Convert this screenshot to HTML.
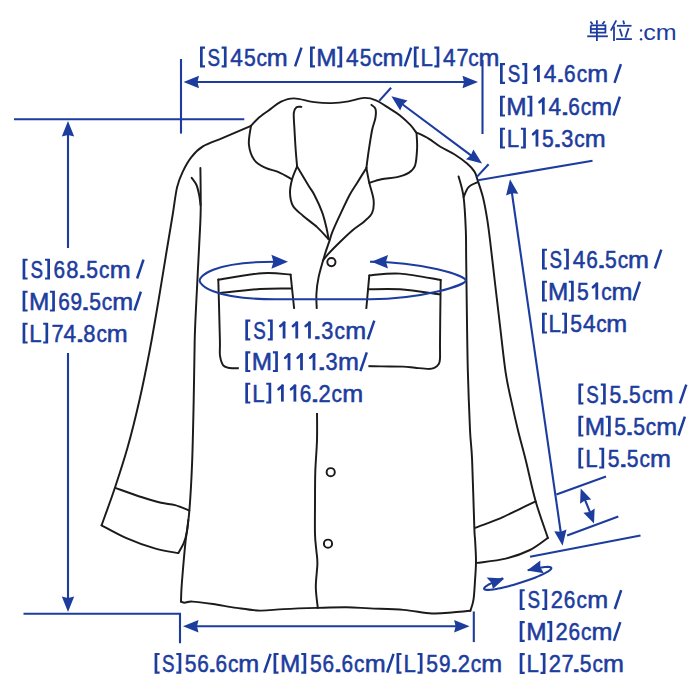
<!DOCTYPE html>
<html><head><meta charset="utf-8"><style>
html,body{margin:0;padding:0;background:#fff;width:700px;height:700px;overflow:hidden}
svg{display:block}
</style></head><body>
<svg width="700" height="700" viewBox="0 0 700 700">
<rect width="700" height="700" fill="#fff"/>
<g fill="none" stroke="#1d1a1a" stroke-width="1.95" stroke-linecap="round" stroke-linejoin="round">
<path d="M251.00,125.80 C246.32,127.82 230.92,134.47 222.90,137.90 C214.88,141.33 208.15,143.20 202.90,146.40 C197.65,149.60 194.73,152.93 191.40,157.10 C188.07,161.27 185.28,166.40 182.90,171.40 C180.52,176.40 178.78,180.00 177.10,187.10 C175.42,194.20 174.52,203.52 172.80,214.00 C171.08,224.48 169.17,235.67 166.80,250.00 C164.43,264.33 161.43,283.33 158.60,300.00 C155.77,316.67 152.98,333.33 149.80,350.00 C146.62,366.67 143.18,383.82 139.50,400.00 C135.82,416.18 131.77,432.57 127.70,447.10 C123.63,461.63 119.45,474.17 115.10,487.20 C110.75,500.23 103.85,518.95 101.60,525.30"/><path d="M101.60,525.30 C105.73,527.43 117.55,534.25 126.40,538.10 C135.25,541.95 146.05,545.90 154.70,548.40 C163.35,550.90 174.37,552.32 178.30,553.10"/><path d="M178.30,553.10 C179.22,551.40 182.37,546.43 183.80,542.90 C185.23,539.37 186.15,535.72 186.90,531.90 C187.65,528.08 188.07,521.98 188.30,520.00"/><path d="M115.40,487.90 C119.85,489.47 134.50,494.82 142.10,497.30 C149.70,499.78 155.50,501.50 161.00,502.80 C166.50,504.10 170.38,503.80 175.10,505.10 C179.82,506.40 186.93,509.68 189.30,510.60"/><path d="M200.40,167.90 C200.45,174.92 200.88,197.50 200.70,210.00 C200.52,222.50 200.02,227.90 199.30,242.90 C198.58,257.90 197.17,283.82 196.40,300.00 C195.63,316.18 195.15,323.33 194.70,340.00 C194.25,356.67 194.13,379.52 193.70,400.00 C193.27,420.48 192.83,444.33 192.10,462.90 C191.37,481.47 190.42,498.07 189.30,511.40 C188.18,524.73 186.53,532.30 185.40,542.90 C184.27,553.50 183.17,567.15 182.50,575.00 C181.83,582.85 181.65,585.57 181.40,590.00 C181.15,594.43 181.07,599.67 181.00,601.60"/><path d="M191.70,177.90 C192.50,179.08 195.23,182.03 196.50,185.00 C197.77,187.97 198.63,192.37 199.30,195.70 C199.97,199.03 200.30,203.45 200.50,205.00"/><path d="M181.00,601.60 C181.60,601.78 182.70,602.70 184.60,602.70 C186.50,602.70 187.68,601.38 192.40,601.60 C197.12,601.82 205.57,602.95 212.90,604.00 C220.23,605.05 228.55,606.80 236.40,607.90 C244.25,609.00 252.13,610.40 260.00,610.60 C267.87,610.80 274.03,609.55 283.60,609.10 C293.17,608.65 306.93,608.20 317.40,607.90 C327.87,607.60 337.63,607.22 346.40,607.30 C355.17,607.38 360.47,607.97 370.00,608.40 C379.53,608.83 393.28,609.05 403.60,609.90 C413.92,610.75 423.52,613.10 431.90,613.50 C440.28,613.90 447.48,612.77 453.90,612.30 C460.32,611.83 467.65,610.97 470.40,610.70"/><path d="M470.40,610.70 C470.92,608.87 472.72,604.93 473.50,599.70 C474.28,594.47 474.68,585.75 475.10,579.30 C475.52,572.85 476.00,567.55 476.00,561.00 C476.00,554.45 475.38,545.65 475.10,540.00 C474.82,534.35 474.80,540.43 474.30,527.10 C473.80,513.77 472.82,476.18 472.10,460.00 C471.38,443.82 470.70,444.52 470.00,430.00 C469.30,415.48 468.38,389.57 467.90,372.90 C467.42,356.23 467.38,348.82 467.10,330.00 C466.82,311.18 466.42,276.67 466.20,260.00 C465.98,243.33 466.23,240.48 465.80,230.00 C465.37,219.52 464.80,206.03 463.60,197.10 C462.40,188.17 459.43,179.85 458.60,176.40"/><path d="M477.90,182.10 C476.35,182.93 470.98,184.60 468.60,187.10 C466.22,189.60 464.43,195.43 463.60,197.10"/><path d="M416.00,132.30 C418.10,133.35 424.60,136.23 428.60,138.60 C432.60,140.97 435.72,143.88 440.00,146.50 C444.28,149.12 449.78,151.45 454.30,154.30 C458.82,157.15 463.77,160.75 467.10,163.60 C470.43,166.45 472.63,168.90 474.30,171.40 C475.97,173.90 475.67,174.32 477.10,178.60 C478.53,182.88 481.23,190.43 482.90,197.10 C484.57,203.77 485.92,211.45 487.10,218.60 C488.28,225.75 488.68,229.27 490.00,240.00 C491.32,250.73 493.33,268.72 495.00,283.00 C496.67,297.28 498.22,310.72 500.00,325.70 C501.78,340.68 503.80,360.28 505.70,372.90 C507.60,385.52 509.37,391.88 511.40,401.40 C513.43,410.92 515.52,420.23 517.90,430.00 C520.28,439.77 522.73,448.10 525.70,460.00 C528.67,471.90 532.00,488.42 535.70,501.40 C539.40,514.38 545.87,531.82 547.90,537.90"/><path d="M475.00,527.90 C477.27,527.07 483.95,524.70 488.60,522.90 C493.25,521.10 498.15,519.20 502.90,517.10 C507.65,515.00 511.63,512.92 517.10,510.30 C522.57,507.68 532.60,502.88 535.70,501.40"/><path d="M547.90,537.90 C544.92,539.92 537.03,546.55 530.00,550.00 C522.97,553.45 514.52,556.45 505.70,558.60 C496.88,560.75 481.87,562.18 477.10,562.90"/><path d="M251.00,125.80 C252.17,124.57 255.12,120.92 258.00,118.40 C260.88,115.88 264.45,113.48 268.30,110.70 C272.15,107.92 276.82,103.75 281.10,101.70 C285.38,99.65 288.47,98.33 294.00,98.40 C299.53,98.47 308.07,101.32 314.30,102.10 C320.53,102.88 325.68,103.22 331.40,103.10 C337.12,102.98 343.17,102.27 348.60,101.40 C354.03,100.53 359.43,98.08 364.00,97.90 C368.57,97.72 371.72,98.52 376.00,100.30 C380.28,102.08 385.70,106.08 389.70,108.60 C393.70,111.12 396.57,112.68 400.00,115.40 C403.43,118.12 407.63,122.08 410.30,124.90 C412.97,127.72 415.05,131.07 416.00,132.30"/><path d="M251.00,125.80 C250.65,128.88 248.35,138.60 248.90,144.30 C249.45,150.00 251.50,156.07 254.30,160.00 C257.10,163.93 261.65,165.88 265.70,167.90 C269.75,169.92 274.22,170.20 278.60,172.10 C282.98,174.00 289.77,178.10 292.00,179.30"/><path d="M301.40,106.90 C300.58,106.95 297.77,106.20 296.50,107.20 C295.23,108.20 294.13,109.10 293.80,112.90 C293.47,116.70 294.18,123.82 294.50,130.00 C294.82,136.18 295.27,143.93 295.70,150.00 C296.13,156.07 296.87,163.67 297.10,166.40"/><path d="M297.10,166.40 C296.27,168.55 293.28,174.88 292.10,179.30 C290.92,183.72 289.87,188.50 290.00,192.90 C290.13,197.30 290.75,201.90 292.90,205.70 C295.05,209.50 298.87,212.13 302.90,215.70 C306.93,219.27 312.82,223.17 317.10,227.10 C321.38,231.03 326.68,237.27 328.60,239.30"/><path d="M297.10,166.40 C299.02,169.62 305.72,180.93 308.60,185.70 C311.48,190.47 312.15,190.60 314.40,195.00 C316.65,199.40 320.10,206.67 322.10,212.10 C324.10,217.53 325.32,223.10 326.40,227.60 C327.48,232.10 328.23,237.18 328.60,239.10"/><path d="M371.40,104.90 C372.08,105.58 374.83,106.82 375.50,109.00 C376.17,111.18 375.97,114.50 375.40,118.00 C374.83,121.50 373.23,124.43 372.10,130.00 C370.97,135.57 369.55,145.08 368.60,151.40 C367.65,157.72 366.77,165.15 366.40,167.90"/><path d="M366.40,167.90 C364.85,170.40 359.90,178.38 357.10,182.90 C354.30,187.42 352.57,189.42 349.60,195.00 C346.63,200.58 342.17,210.25 339.30,216.40 C336.43,222.55 333.97,228.03 332.40,231.90 C330.83,235.77 331.18,235.75 329.90,239.60 C328.62,243.45 326.58,248.75 324.70,255.00 C322.82,261.25 319.98,270.55 318.60,277.10 C317.22,283.65 316.68,288.48 316.40,294.30 C316.12,300.12 316.82,309.05 316.90,312.00"/><path d="M317.00,410.00 C317.00,415.00 317.28,429.77 317.00,440.00 C316.72,450.23 315.63,460.92 315.30,471.40 C314.97,481.88 315.05,492.42 315.00,502.90 C314.95,513.38 314.78,526.45 315.00,534.30 C315.22,542.15 315.90,545.12 316.30,550.00 C316.70,554.88 317.48,557.42 317.40,563.60 C317.32,569.78 315.73,579.72 315.80,587.10 C315.87,594.48 317.47,604.43 317.80,607.90"/><path d="M366.40,167.90 C366.88,170.40 368.10,177.55 369.30,182.90 C370.50,188.25 373.13,195.00 373.60,200.00 C374.07,205.00 373.65,209.33 372.10,212.90 C370.55,216.47 367.50,218.55 364.30,221.40 C361.10,224.25 356.95,226.57 352.90,230.00 C348.85,233.43 344.13,237.98 340.00,242.00 C335.87,246.02 330.95,250.98 328.10,254.10 C325.25,257.22 323.77,259.60 322.90,260.70"/><path d="M416.60,134.00 C416.68,136.43 417.37,143.32 417.10,148.60 C416.83,153.88 416.42,161.65 415.00,165.70 C413.58,169.75 411.58,171.00 408.60,172.90 C405.62,174.80 401.63,176.03 397.10,177.10 C392.57,178.17 386.03,178.33 381.40,179.30 C376.77,180.27 371.32,182.30 369.30,182.90"/><path d="M218.30,279.80 C225.63,278.70 250.25,274.07 262.30,273.20 C274.35,272.33 285.88,274.37 290.60,274.60"/><path d="M290.60,274.60 L294.50,312.00"/><path d="M219.00,293.20 C225.83,292.50 248.07,289.78 260.00,289.00 C271.93,288.22 285.50,288.58 290.60,288.50"/><path d="M218.30,279.50 C218.57,289.58 219.62,327.30 219.90,340.00 C220.18,352.70 219.38,351.42 220.00,355.70 C220.62,359.98 221.45,363.60 223.60,365.70 C225.75,367.80 229.33,368.00 232.90,368.30 C236.47,368.60 242.98,367.63 245.00,367.50"/><path d="M369.30,275.40 C374.42,275.10 388.10,272.83 400.00,273.60 C411.90,274.37 433.92,278.93 440.70,280.00"/><path d="M369.30,275.40 L366.00,312.00"/><path d="M368.00,289.30 C373.33,289.30 388.00,288.47 400.00,289.30 C412.00,290.13 433.33,293.47 440.00,294.30"/><path d="M440.70,280.00 C440.62,286.67 440.32,309.17 440.20,320.00 C440.08,330.83 440.03,338.57 440.00,345.00 C439.97,351.43 440.20,355.43 440.00,358.60 C439.80,361.77 439.75,362.45 438.80,364.00 C437.85,365.55 436.00,367.08 434.30,367.90 C432.60,368.72 431.82,368.92 428.60,368.90 C425.38,368.88 419.28,368.18 415.00,367.80 C410.72,367.42 408.50,366.83 402.90,366.60 C397.30,366.37 388.55,366.50 381.40,366.40 C374.25,366.30 363.57,366.07 360.00,366.00"/>
<circle cx="331.4" cy="262.1" r="4.1"/><circle cx="330.7" cy="472.2" r="4.1"/><circle cx="328" cy="543.7" r="4.1"/>
</g>
<g fill="none" stroke="#1d3d9e" stroke-width="2.1">
<path d="M14.00,119.30 L244.30,119.30"/><path d="M68.00,132.00 L68.00,600.00"/><path d="M23.50,613.80 L180.00,613.80 L180.00,643.30"/><path d="M181.00,59.00 L181.00,133.60"/><path d="M482.50,60.00 L482.50,134.00"/><path d="M195.00,82.00 L465.00,82.00"/><path d="M379.20,100.90 L391.10,87.70"/><path d="M476.90,176.90 L488.60,164.30"/><path d="M400.00,102.50 L473.00,156.90"/><path d="M477.90,180.20 L592.50,160.80"/><path d="M511.50,190.00 L561.00,534.00"/><path d="M556.40,494.60 L606.00,476.40"/><path d="M567.10,535.40 L618.30,516.40"/><path d="M583.00,495.00 L592.00,517.00"/><path d="M530.00,556.80 L640.50,535.50"/><path d="M195.00,626.20 L458.00,626.20"/><path d="M473.80,611.50 L473.80,642.10"/>
</g>
<path d="M282,261.7 L275,261.7 C210.9,261.7 199.6,276.7 199.6,280.45 C199.6,284.2 210.9,299.2 275,299.2 L370,299.2 C422.6,299.2 465.7,285.1 465.7,280.45 C465.7,275.8 422.6,261.7 370,261.7 L378,261.7" fill="none" stroke="#1d3d9e" stroke-width="2.1"/>
<path d="M527.76,570.34 L529.95,569.80 L532.08,569.29 L534.15,568.83 L536.14,568.41 L538.03,568.04 L539.83,567.72 L541.53,567.45 L543.11,567.23 L544.57,567.07 L545.91,566.96 L547.10,566.90 L548.16,566.90 L549.07,566.96 L549.84,567.07 L550.45,567.23 L550.90,567.44 L551.20,567.71 L551.33,568.03 L551.31,568.40 L551.12,568.82 L550.78,569.28 L550.27,569.79 L549.61,570.33 L548.80,570.92 L547.85,571.54 L546.74,572.19 L545.50,572.88 L544.13,573.59 L542.63,574.32 L541.01,575.07 L539.28,575.84 L537.45,576.62 L535.52,577.41 L533.51,578.20 L531.42,579.00 L529.27,579.79 L527.06,580.57 L524.81,581.35 L522.52,582.11 L520.21,582.85 L517.89,583.57 L515.57,584.27 L513.26,584.94 L510.97,585.58 L508.71,586.18 L506.49,586.75 L504.33,587.27 L502.23,587.76 L500.21,588.20 L498.26,588.59 L496.41,588.93 L494.67,589.23 L493.03,589.47 L491.51,589.66 L490.12,589.80 L488.85,589.88 L487.73,589.90 L486.74,589.88 L485.91,589.79 L485.23,589.66 L484.70,589.47 L484.33,589.22 L484.11,588.93 L484.06,588.58 L484.17,588.19 L484.44,587.75 L484.87,587.26 L485.45,586.73 L486.19,586.17 L487.08,585.56 L488.11,584.92 L489.29,584.25 L490.60,583.56 L492.04,582.83 L493.60,582.09 L495.28,581.33 L497.06,580.55 L498.94,579.77 L500.92,578.98 L502.97,578.18" fill="none" stroke="#1d3d9e" stroke-width="2.1" stroke-linejoin="round"/>
<path d="M68.00,121.00 L74.20,136.50 L68.00,135.00 L61.80,136.50Z" fill="#1d3d9e"/><path d="M68.00,612.00 L61.80,596.50 L68.00,598.00 L74.20,596.50Z" fill="#1d3d9e"/><path d="M183.50,82.00 L199.00,75.80 L197.50,82.00 L199.00,88.20Z" fill="#1d3d9e"/><path d="M478.00,82.00 L462.50,88.20 L464.00,82.00 L462.50,75.80Z" fill="#1d3d9e"/><path d="M391.40,96.30 L407.54,100.56 L402.64,104.64 L400.15,110.52Z" fill="#1d3d9e"/><path d="M482.10,163.60 L465.96,159.34 L470.86,155.26 L473.35,149.38Z" fill="#1d3d9e"/><path d="M510.00,179.30 L518.34,193.76 L511.99,193.16 L506.07,195.52Z" fill="#1d3d9e"/><path d="M562.60,545.70 L554.26,531.24 L560.61,531.84 L566.53,529.48Z" fill="#1d3d9e"/><path d="M580.70,488.60 L591.28,499.56 L585.14,500.28 L580.06,503.82Z" fill="#1d3d9e"/><path d="M594.00,523.60 L583.42,512.64 L589.56,511.92 L594.64,508.38Z" fill="#1d3d9e"/><path d="M183.00,626.20 L198.50,620.00 L197.00,626.20 L198.50,632.40Z" fill="#1d3d9e"/><path d="M469.60,626.20 L454.10,632.40 L455.60,626.20 L454.10,620.00Z" fill="#1d3d9e"/><path d="M288.00,261.70 L271.40,268.70 L273.40,261.70 L271.40,254.70Z" fill="#1d3d9e"/><path d="M371.40,261.70 L388.00,254.90 L386.00,261.70 L388.00,268.50Z" fill="#1d3d9e"/><path d="M504.3,578.4 L486.6,577.6 L491.50,582.67 L492.9,588.9Z" fill="#1d3d9e"/><path d="M527.1,570.4 L540.3,560.5 L540.30,567.32 L543.9,573.3Z" fill="#1d3d9e"/>
<rect x="16.1" y="248.0" width="129.0" height="41.0" fill="#fff"/><rect x="16.1" y="280.0" width="126.4" height="41.0" fill="#fff"/><rect x="16.1" y="312.0" width="110.4" height="41.0" fill="#fff"/><rect x="238.8" y="308.9" width="137.1" height="41.0" fill="#fff"/><rect x="238.8" y="340.6" width="129.6" height="41.0" fill="#fff"/><rect x="238.8" y="372.0" width="123.1" height="41.0" fill="#fff"/>
<g font-family="Liberation Sans, sans-serif" font-size="24.5" fill="#1d3d9e" stroke="#1d3d9e" stroke-width="0.55" stroke-linejoin="round">
<path d="M200.00,46.60 L205.00,46.60 L205.00,48.70 L202.70,48.70 L202.70,65.30 L205.00,65.30 L205.00,67.40 L200.00,67.40Z" stroke="none"/><text transform="translate(207.40,65.50) scale(0.766,1)">S</text><path d="M226.60,46.60 L221.60,46.60 L221.60,48.70 L223.90,48.70 L223.90,65.30 L221.60,65.30 L221.60,67.40 L226.60,67.40Z" stroke="none"/><text transform="translate(230.33,65.50) scale(0.923,1)">4</text><text transform="translate(243.96,65.50) scale(0.861,1)">5</text><text transform="translate(256.46,65.50) scale(0.852,1)">c</text><text transform="translate(266.73,65.50) scale(1.025,1)">m</text><path d="M295.10,66.40 L301.50,47.60" fill="none" stroke-width="2.5" stroke-linecap="butt"/><path d="M310.00,46.60 L315.00,46.60 L315.00,48.70 L312.70,48.70 L312.70,65.30 L315.00,65.30 L315.00,67.40 L310.00,67.40Z" stroke="none"/><text transform="translate(316.29,65.50) scale(0.995,1)">M</text><path d="M342.19,46.60 L337.19,46.60 L337.19,48.70 L339.49,48.70 L339.49,65.30 L337.19,65.30 L337.19,67.40 L342.19,67.40Z" stroke="none"/><text transform="translate(345.96,65.50) scale(0.923,1)">4</text><text transform="translate(359.63,65.50) scale(0.861,1)">5</text><text transform="translate(372.18,65.50) scale(0.852,1)">c</text><text transform="translate(382.49,65.50) scale(1.025,1)">m</text><path d="M404.75,66.40 L411.15,47.60" fill="none" stroke-width="2.5" stroke-linecap="butt"/><path d="M413.84,46.60 L418.84,46.60 L418.84,48.70 L416.54,48.70 L416.54,65.30 L418.84,65.30 L418.84,67.40 L413.84,67.40Z" stroke="none"/><text transform="translate(420.51,65.50) scale(0.907,1)">L</text><path d="M439.33,46.60 L434.33,46.60 L434.33,48.70 L436.63,48.70 L436.63,65.30 L434.33,65.30 L434.33,67.40 L439.33,67.40Z" stroke="none"/><text transform="translate(443.10,65.50) scale(0.923,1)">4</text><text transform="translate(456.50,65.50) scale(0.889,1)">7</text><text transform="translate(468.22,65.50) scale(0.852,1)">c</text><text transform="translate(478.53,65.50) scale(1.025,1)">m</text><path d="M500.00,63.10 L505.00,63.10 L505.00,65.20 L502.70,65.20 L502.70,81.80 L505.00,81.80 L505.00,83.90 L500.00,83.90Z" stroke="none"/><text transform="translate(507.72,82.00) scale(0.766,1)">S</text><path d="M527.24,63.10 L522.24,63.10 L522.24,65.20 L524.54,65.20 L524.54,81.80 L522.24,81.80 L522.24,83.90 L527.24,83.90Z" stroke="none"/><path d="M537.01,65.10 L539.81,65.10 L539.81,82.00 L537.01,82.00Z" stroke="none"/><path d="M538.51,66.10 L534.51,69.70" fill="none" stroke-width="2.5" stroke-linecap="round"/><text transform="translate(543.86,82.00) scale(0.923,1)">4</text><text transform="translate(555.20,82.00) scale(1.543,1)">.</text><text transform="translate(564.06,82.00) scale(0.849,1)">6</text><text transform="translate(576.70,82.00) scale(0.852,1)">c</text><text transform="translate(587.29,82.00) scale(1.025,1)">m</text><path d="M614.50,82.90 L620.90,64.10" fill="none" stroke-width="2.5" stroke-linecap="butt"/><path d="M500.00,95.70 L505.00,95.70 L505.00,97.80 L502.70,97.80 L502.70,114.40 L505.00,114.40 L505.00,116.50 L500.00,116.50Z" stroke="none"/><text transform="translate(506.37,114.60) scale(0.995,1)">M</text><path d="M532.33,95.70 L527.33,95.70 L527.33,97.80 L529.63,97.80 L529.63,114.40 L527.33,114.40 L527.33,116.50 L532.33,116.50Z" stroke="none"/><path d="M541.90,97.70 L544.70,97.70 L544.70,114.60 L541.90,114.60Z" stroke="none"/><path d="M543.40,98.70 L539.40,102.30" fill="none" stroke-width="2.5" stroke-linecap="round"/><text transform="translate(548.55,114.60) scale(0.923,1)">4</text><text transform="translate(559.68,114.60) scale(1.543,1)">.</text><text transform="translate(568.34,114.60) scale(0.849,1)">6</text><text transform="translate(580.78,114.60) scale(0.852,1)">c</text><text transform="translate(591.17,114.60) scale(1.025,1)">m</text><path d="M613.50,115.50 L619.90,96.70" fill="none" stroke-width="2.5" stroke-linecap="butt"/><path d="M500.00,127.70 L505.00,127.70 L505.00,129.80 L502.70,129.80 L502.70,146.40 L505.00,146.40 L505.00,148.50 L500.00,148.50Z" stroke="none"/><text transform="translate(506.86,146.60) scale(0.907,1)">L</text><path d="M525.88,127.70 L520.88,127.70 L520.88,129.80 L523.17,129.80 L523.17,146.40 L520.88,146.40 L520.88,148.50 L525.88,148.50Z" stroke="none"/><path d="M535.56,129.70 L538.36,129.70 L538.36,146.60 L535.56,146.60Z" stroke="none"/><path d="M537.06,130.70 L533.06,134.30" fill="none" stroke-width="2.5" stroke-linecap="round"/><text transform="translate(542.01,146.60) scale(0.861,1)">5</text><text transform="translate(552.19,146.60) scale(1.543,1)">.</text><text transform="translate(561.20,146.60) scale(0.887,1)">3</text><text transform="translate(574.23,146.60) scale(0.852,1)">c</text><text transform="translate(584.73,146.60) scale(1.025,1)">m</text><path d="M22.60,258.70 L27.60,258.70 L27.60,260.80 L25.30,260.80 L25.30,277.40 L27.60,277.40 L27.60,279.50 L22.60,279.50Z" stroke="none"/><text transform="translate(30.40,277.60) scale(0.766,1)">S</text><path d="M50.00,258.70 L45.00,258.70 L45.00,260.80 L47.30,260.80 L47.30,277.40 L45.00,277.40 L45.00,279.50 L50.00,279.50Z" stroke="none"/><text transform="translate(53.59,277.60) scale(0.849,1)">6</text><text transform="translate(66.25,277.60) scale(0.896,1)">8</text><text transform="translate(77.00,277.60) scale(1.543,1)">.</text><text transform="translate(86.16,277.60) scale(0.861,1)">5</text><text transform="translate(99.06,277.60) scale(0.852,1)">c</text><text transform="translate(109.73,277.60) scale(1.025,1)">m</text><path d="M137.10,278.50 L143.50,259.70" fill="none" stroke-width="2.5" stroke-linecap="butt"/><path d="M22.60,290.70 L27.60,290.70 L27.60,292.80 L25.30,292.80 L25.30,309.40 L27.60,309.40 L27.60,311.50 L22.60,311.50Z" stroke="none"/><text transform="translate(28.96,309.60) scale(0.995,1)">M</text><path d="M54.91,290.70 L49.91,290.70 L49.91,292.80 L52.21,292.80 L52.21,309.40 L49.91,309.40 L49.91,311.50 L54.91,311.50Z" stroke="none"/><text transform="translate(58.21,309.60) scale(0.849,1)">6</text><text transform="translate(70.55,309.60) scale(0.848,1)">9</text><text transform="translate(80.33,309.60) scale(1.543,1)">.</text><text transform="translate(89.19,309.60) scale(0.861,1)">5</text><text transform="translate(101.80,309.60) scale(0.852,1)">c</text><text transform="translate(112.18,309.60) scale(1.025,1)">m</text><path d="M134.50,310.50 L140.90,291.70" fill="none" stroke-width="2.5" stroke-linecap="butt"/><path d="M22.60,322.70 L27.60,322.70 L27.60,324.80 L25.30,324.80 L25.30,341.40 L27.60,341.40 L27.60,343.50 L22.60,343.50Z" stroke="none"/><text transform="translate(29.31,341.60) scale(0.907,1)">L</text><path d="M48.17,322.70 L43.17,322.70 L43.17,324.80 L45.47,324.80 L45.47,341.40 L43.17,341.40 L43.17,343.50 L48.17,343.50Z" stroke="none"/><text transform="translate(51.40,341.60) scale(0.889,1)">7</text><text transform="translate(63.53,341.60) scale(0.923,1)">4</text><text transform="translate(74.64,341.60) scale(1.543,1)">.</text><text transform="translate(83.37,341.60) scale(0.896,1)">8</text><text transform="translate(96.38,341.60) scale(0.852,1)">c</text><text transform="translate(106.73,341.60) scale(1.025,1)">m</text><path d="M245.30,319.60 L250.30,319.60 L250.30,321.70 L248.00,321.70 L248.00,338.30 L250.30,338.30 L250.30,340.40 L245.30,340.40Z" stroke="none"/><text transform="translate(253.14,338.50) scale(0.766,1)">S</text><path d="M272.78,319.60 L267.78,319.60 L267.78,321.70 L270.08,321.70 L270.08,338.30 L267.78,338.30 L267.78,340.40 L272.78,340.40Z" stroke="none"/><path d="M282.67,321.60 L285.47,321.60 L285.47,338.50 L282.67,338.50Z" stroke="none"/><path d="M284.17,322.60 L280.17,326.20" fill="none" stroke-width="2.5" stroke-linecap="round"/><path d="M295.36,321.60 L298.16,321.60 L298.16,338.50 L295.36,338.50Z" stroke="none"/><path d="M296.86,322.60 L292.86,326.20" fill="none" stroke-width="2.5" stroke-linecap="round"/><path d="M308.05,321.60 L310.85,321.60 L310.85,338.50 L308.05,338.50Z" stroke="none"/><path d="M309.55,322.60 L305.55,326.20" fill="none" stroke-width="2.5" stroke-linecap="round"/><text transform="translate(312.09,338.50) scale(1.543,1)">.</text><text transform="translate(321.30,338.50) scale(0.887,1)">3</text><text transform="translate(334.53,338.50) scale(0.852,1)">c</text><text transform="translate(345.24,338.50) scale(1.025,1)">m</text><path d="M367.90,339.40 L374.30,320.60" fill="none" stroke-width="2.5" stroke-linecap="butt"/><path d="M245.30,351.30 L250.30,351.30 L250.30,353.40 L248.00,353.40 L248.00,370.00 L250.30,370.00 L250.30,372.10 L245.30,372.10Z" stroke="none"/><text transform="translate(251.80,370.20) scale(0.995,1)">M</text><path d="M277.90,351.30 L272.90,351.30 L272.90,353.40 L275.20,353.40 L275.20,370.00 L272.90,370.00 L272.90,372.10 L277.90,372.10Z" stroke="none"/><path d="M287.60,353.30 L290.40,353.30 L290.40,370.20 L287.60,370.20Z" stroke="none"/><path d="M289.10,354.30 L285.10,357.90" fill="none" stroke-width="2.5" stroke-linecap="round"/><path d="M300.10,353.30 L302.90,353.30 L302.90,370.20 L300.10,370.20Z" stroke="none"/><path d="M301.60,354.30 L297.60,357.90" fill="none" stroke-width="2.5" stroke-linecap="round"/><path d="M312.60,353.30 L315.40,353.30 L315.40,370.20 L312.60,370.20Z" stroke="none"/><path d="M314.10,354.30 L310.10,357.90" fill="none" stroke-width="2.5" stroke-linecap="round"/><text transform="translate(316.45,370.20) scale(1.543,1)">.</text><text transform="translate(325.47,370.20) scale(0.887,1)">3</text><text transform="translate(337.93,370.20) scale(1.025,1)">m</text><path d="M360.40,371.10 L366.80,352.30" fill="none" stroke-width="2.5" stroke-linecap="butt"/><path d="M245.30,382.70 L250.30,382.70 L250.30,384.80 L248.00,384.80 L248.00,401.40 L250.30,401.40 L250.30,403.50 L245.30,403.50Z" stroke="none"/><text transform="translate(252.20,401.60) scale(0.907,1)">L</text><path d="M271.24,382.70 L266.24,382.70 L266.24,384.80 L268.54,384.80 L268.54,401.40 L266.24,401.40 L266.24,403.50 L271.24,403.50Z" stroke="none"/><path d="M280.97,384.70 L283.77,384.70 L283.77,401.60 L280.97,401.60Z" stroke="none"/><path d="M282.47,385.70 L278.47,389.30" fill="none" stroke-width="2.5" stroke-linecap="round"/><path d="M293.49,384.70 L296.29,384.70 L296.29,401.60 L293.49,401.60Z" stroke="none"/><path d="M294.99,385.70 L290.99,389.30" fill="none" stroke-width="2.5" stroke-linecap="round"/><text transform="translate(299.75,401.60) scale(0.849,1)">6</text><text transform="translate(309.78,401.60) scale(1.543,1)">.</text><text transform="translate(318.55,401.60) scale(0.896,1)">2</text><text transform="translate(331.59,401.60) scale(0.852,1)">c</text><text transform="translate(342.13,401.60) scale(1.025,1)">m</text><path d="M542.00,248.70 L547.00,248.70 L547.00,250.80 L544.70,250.80 L544.70,267.40 L547.00,267.40 L547.00,269.50 L542.00,269.50Z" stroke="none"/><text transform="translate(549.53,267.60) scale(0.766,1)">S</text><path d="M568.86,248.70 L563.86,248.70 L563.86,250.80 L566.16,250.80 L566.16,267.40 L563.86,267.40 L563.86,269.50 L568.86,269.50Z" stroke="none"/><text transform="translate(572.72,267.60) scale(0.923,1)">4</text><text transform="translate(586.26,267.60) scale(0.849,1)">6</text><text transform="translate(596.15,267.60) scale(1.543,1)">.</text><text transform="translate(605.04,267.60) scale(0.861,1)">5</text><text transform="translate(617.67,267.60) scale(0.852,1)">c</text><text transform="translate(628.07,267.60) scale(1.025,1)">m</text><path d="M654.90,268.50 L661.30,249.70" fill="none" stroke-width="2.5" stroke-linecap="butt"/><path d="M542.00,280.70 L547.00,280.70 L547.00,282.80 L544.70,282.80 L544.70,299.40 L547.00,299.40 L547.00,301.50 L542.00,301.50Z" stroke="none"/><text transform="translate(548.07,299.60) scale(0.995,1)">M</text><path d="M573.74,280.70 L568.74,280.70 L568.74,282.80 L571.04,282.80 L571.04,299.40 L568.74,299.40 L568.74,301.50 L573.74,301.50Z" stroke="none"/><text transform="translate(576.97,299.60) scale(0.861,1)">5</text><path d="M595.39,282.70 L598.19,282.70 L598.19,299.60 L595.39,299.60Z" stroke="none"/><path d="M596.89,283.70 L592.89,287.30" fill="none" stroke-width="2.5" stroke-linecap="round"/><text transform="translate(601.37,299.60) scale(0.852,1)">c</text><text transform="translate(611.46,299.60) scale(1.025,1)">m</text><path d="M633.50,300.50 L639.90,281.70" fill="none" stroke-width="2.5" stroke-linecap="butt"/><path d="M542.00,312.70 L547.00,312.70 L547.00,314.80 L544.70,314.80 L544.70,331.40 L547.00,331.40 L547.00,333.50 L542.00,333.50Z" stroke="none"/><text transform="translate(548.43,331.60) scale(0.907,1)">L</text><path d="M567.00,312.70 L562.00,312.70 L562.00,314.80 L564.30,314.80 L564.30,331.40 L562.00,331.40 L562.00,333.50 L567.00,333.50Z" stroke="none"/><text transform="translate(570.21,331.60) scale(0.861,1)">5</text><text transform="translate(582.88,331.60) scale(0.923,1)">4</text><text transform="translate(596.26,331.60) scale(0.852,1)">c</text><text transform="translate(606.33,331.60) scale(1.025,1)">m</text><path d="M578.40,383.60 L583.40,383.60 L583.40,385.70 L581.10,385.70 L581.10,402.30 L583.40,402.30 L583.40,404.40 L578.40,404.40Z" stroke="none"/><text transform="translate(586.18,402.50) scale(0.766,1)">S</text><path d="M605.77,383.60 L600.77,383.60 L600.77,385.70 L603.07,385.70 L603.07,402.30 L600.77,402.30 L600.77,404.40 L605.77,404.40Z" stroke="none"/><text transform="translate(609.56,402.50) scale(0.861,1)">5</text><text transform="translate(619.88,402.50) scale(1.543,1)">.</text><text transform="translate(629.02,402.50) scale(0.861,1)">5</text><text transform="translate(641.91,402.50) scale(0.852,1)">c</text><text transform="translate(652.57,402.50) scale(1.025,1)">m</text><path d="M679.90,403.40 L686.30,384.60" fill="none" stroke-width="2.5" stroke-linecap="butt"/><path d="M578.40,415.70 L583.40,415.70 L583.40,417.80 L581.10,417.80 L581.10,434.40 L583.40,434.40 L583.40,436.50 L578.40,436.50Z" stroke="none"/><text transform="translate(584.76,434.60) scale(0.995,1)">M</text><path d="M610.72,415.70 L605.72,415.70 L605.72,417.80 L608.02,417.80 L608.02,434.40 L605.72,434.40 L605.72,436.50 L610.72,436.50Z" stroke="none"/><text transform="translate(614.24,434.60) scale(0.861,1)">5</text><text transform="translate(624.30,434.60) scale(1.543,1)">.</text><text transform="translate(633.17,434.60) scale(0.861,1)">5</text><text transform="translate(645.79,434.60) scale(0.852,1)">c</text><text transform="translate(656.17,434.60) scale(1.025,1)">m</text><path d="M678.50,435.50 L684.90,416.70" fill="none" stroke-width="2.5" stroke-linecap="butt"/><path d="M578.40,447.70 L583.40,447.70 L583.40,449.80 L581.10,449.80 L581.10,466.40 L583.40,466.40 L583.40,468.50 L578.40,468.50Z" stroke="none"/><text transform="translate(585.22,466.60) scale(0.907,1)">L</text><path d="M604.19,447.70 L599.19,447.70 L599.19,449.80 L601.49,449.80 L601.49,466.40 L599.19,466.40 L599.19,468.50 L604.19,468.50Z" stroke="none"/><text transform="translate(607.78,466.60) scale(0.861,1)">5</text><text transform="translate(617.92,466.60) scale(1.543,1)">.</text><text transform="translate(626.87,466.60) scale(0.861,1)">5</text><text transform="translate(639.57,466.60) scale(0.852,1)">c</text><text transform="translate(650.03,466.60) scale(1.025,1)">m</text><path d="M154.60,652.90 L159.60,652.90 L159.60,655.00 L157.30,655.00 L157.30,671.60 L159.60,671.60 L159.60,673.70 L154.60,673.70Z" stroke="none"/><text transform="translate(162.05,671.80) scale(0.766,1)">S</text><path d="M181.30,652.90 L176.30,652.90 L176.30,655.00 L178.60,655.00 L178.60,671.60 L176.30,671.60 L176.30,673.70 L181.30,673.70Z" stroke="none"/><text transform="translate(184.76,671.80) scale(0.861,1)">5</text><text transform="translate(197.14,671.80) scale(0.849,1)">6</text><text transform="translate(206.95,671.80) scale(1.543,1)">.</text><text transform="translate(215.54,671.80) scale(0.849,1)">6</text><text transform="translate(227.91,671.80) scale(0.852,1)">c</text><text transform="translate(238.23,671.80) scale(1.025,1)">m</text><path d="M264.20,672.70 L270.60,653.90" fill="none" stroke-width="2.5" stroke-linecap="butt"/><path d="M273.55,652.90 L278.55,652.90 L278.55,655.00 L276.25,655.00 L276.25,671.60 L278.55,671.60 L278.55,673.70 L273.55,673.70Z" stroke="none"/><text transform="translate(280.10,671.80) scale(0.995,1)">M</text><path d="M306.24,652.90 L301.24,652.90 L301.24,655.00 L303.54,655.00 L303.54,671.60 L301.24,671.60 L301.24,673.70 L306.24,673.70Z" stroke="none"/><text transform="translate(309.94,671.80) scale(0.861,1)">5</text><text transform="translate(322.58,671.80) scale(0.849,1)">6</text><text transform="translate(332.63,671.80) scale(1.543,1)">.</text><text transform="translate(341.48,671.80) scale(0.849,1)">6</text><text transform="translate(354.09,671.80) scale(0.852,1)">c</text><text transform="translate(364.66,671.80) scale(1.025,1)">m</text><path d="M387.17,672.70 L393.57,653.90" fill="none" stroke-width="2.5" stroke-linecap="butt"/><path d="M396.52,652.90 L401.52,652.90 L401.52,655.00 L399.22,655.00 L399.22,671.60 L401.52,671.60 L401.52,673.70 L396.52,673.70Z" stroke="none"/><text transform="translate(403.45,671.80) scale(0.907,1)">L</text><path d="M422.52,652.90 L417.52,652.90 L417.52,655.00 L419.82,655.00 L419.82,671.60 L417.52,671.60 L417.52,673.70 L422.52,673.70Z" stroke="none"/><text transform="translate(426.22,671.80) scale(0.861,1)">5</text><text transform="translate(438.94,671.80) scale(0.848,1)">9</text><text transform="translate(448.91,671.80) scale(1.543,1)">.</text><text transform="translate(457.70,671.80) scale(0.896,1)">2</text><text transform="translate(470.77,671.80) scale(0.852,1)">c</text><text transform="translate(481.33,671.80) scale(1.025,1)">m</text><path d="M519.70,589.20 L524.70,589.20 L524.70,591.30 L522.40,591.30 L522.40,607.90 L524.70,607.90 L524.70,610.00 L519.70,610.00Z" stroke="none"/><text transform="translate(527.55,608.10) scale(0.766,1)">S</text><path d="M547.20,589.20 L542.20,589.20 L542.20,591.30 L544.50,591.30 L544.50,607.90 L542.20,607.90 L542.20,610.00 L547.20,610.00Z" stroke="none"/><text transform="translate(550.80,608.10) scale(0.896,1)">2</text><text transform="translate(563.84,608.10) scale(0.849,1)">6</text><text transform="translate(576.61,608.10) scale(0.852,1)">c</text><text transform="translate(587.33,608.10) scale(1.025,1)">m</text><path d="M614.80,609.00 L621.20,590.20" fill="none" stroke-width="2.5" stroke-linecap="butt"/><path d="M519.70,621.10 L524.70,621.10 L524.70,623.20 L522.40,623.20 L522.40,639.80 L524.70,639.80 L524.70,641.90 L519.70,641.90Z" stroke="none"/><text transform="translate(526.17,640.00) scale(0.995,1)">M</text><path d="M552.24,621.10 L547.24,621.10 L547.24,623.20 L549.54,623.20 L549.54,639.80 L547.24,639.80 L547.24,641.90 L552.24,641.90Z" stroke="none"/><text transform="translate(555.61,640.00) scale(0.896,1)">2</text><text transform="translate(568.43,640.00) scale(0.849,1)">6</text><text transform="translate(580.97,640.00) scale(0.852,1)">c</text><text transform="translate(591.46,640.00) scale(1.025,1)">m</text><path d="M613.90,640.90 L620.30,622.10" fill="none" stroke-width="2.5" stroke-linecap="butt"/><path d="M519.70,653.10 L524.70,653.10 L524.70,655.20 L522.40,655.20 L522.40,671.80 L524.70,671.80 L524.70,673.90 L519.70,673.90Z" stroke="none"/><text transform="translate(526.53,672.00) scale(0.907,1)">L</text><path d="M545.50,653.10 L540.50,653.10 L540.50,655.20 L542.80,655.20 L542.80,671.80 L540.50,671.80 L540.50,673.90 L545.50,673.90Z" stroke="none"/><text transform="translate(548.85,672.00) scale(0.896,1)">2</text><text transform="translate(561.58,672.00) scale(0.889,1)">7</text><text transform="translate(570.90,672.00) scale(1.543,1)">.</text><text transform="translate(579.86,672.00) scale(0.861,1)">5</text><text transform="translate(592.56,672.00) scale(0.852,1)">c</text><text transform="translate(603.03,672.00) scale(1.025,1)">m</text>
</g>
<g fill="none" stroke="#1d3d9e" stroke-width="1.8" stroke-linecap="butt">
<path d="M590.40,21.60 L592.60,24.30"/><path d="M604.70,21.30 L602.40,24.30"/><path d="M596.90,20.20 L596.90,24.50"/><path d="M590.80,25.40 L605.40,25.40 L605.40,32.70 L590.80,32.70 L590.80,25.40"/><path d="M590.80,29.00 L605.40,29.00"/><path d="M596.90,25.40 L596.90,41.00"/><path d="M587.20,36.30 L607.90,36.30"/><path d="M616.30,20.40 L610.80,30.60"/><path d="M614.00,26.50 L614.00,41.00"/><path d="M623.20,20.40 L624.20,24.20"/><path d="M616.90,25.80 L631.50,25.80"/><path d="M619.70,28.80 L622.20,36.60"/><path d="M628.60,28.10 L625.40,37.70"/><path d="M616.10,39.10 L631.90,39.10"/>
</g>
<circle cx="641.1" cy="30.5" r="1.2" fill="#1d3d9e"/>
<circle cx="641.1" cy="39.3" r="1.2" fill="#1d3d9e"/>
<text x="643.2" y="40.2" font-family="Liberation Sans, sans-serif" font-size="21.5" fill="#1d3d9e" textLength="33.4" lengthAdjust="spacingAndGlyphs">cm</text>
</svg>
</body></html>
